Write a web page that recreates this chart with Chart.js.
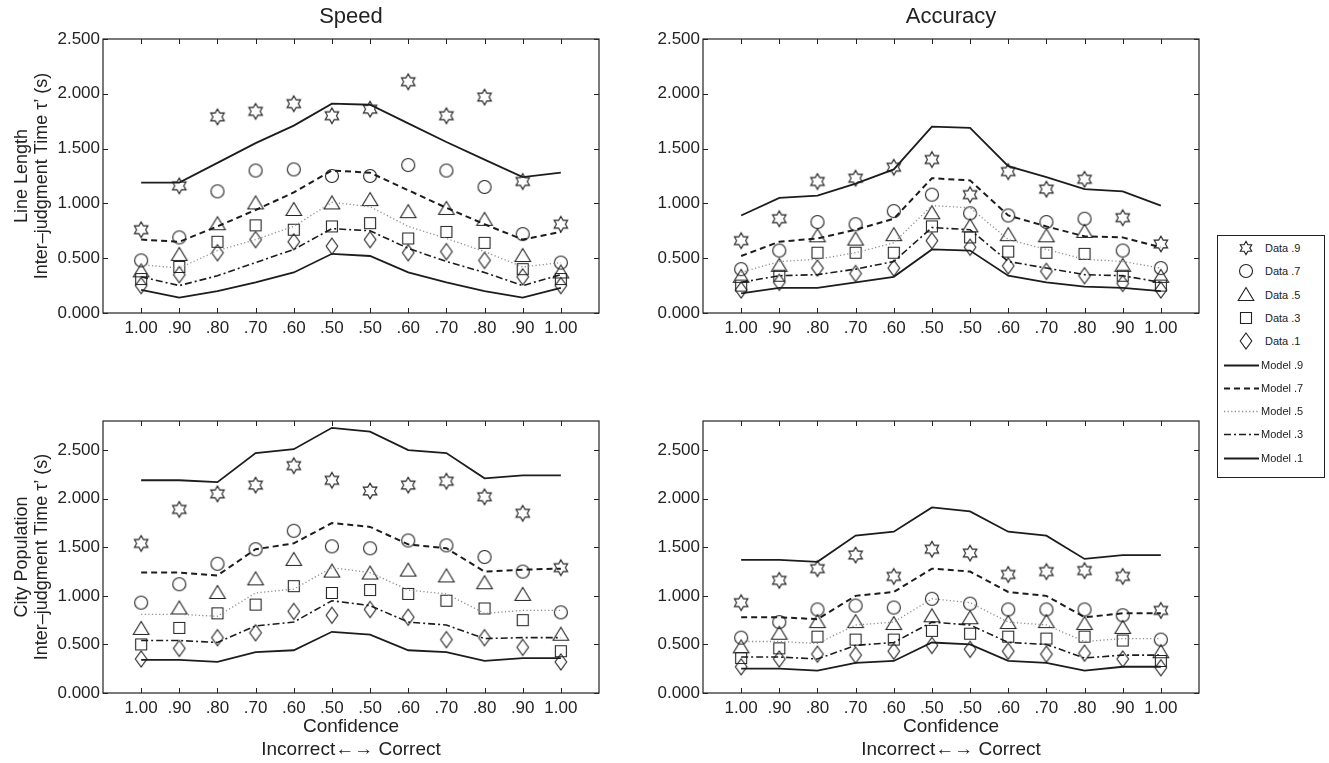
<!DOCTYPE html>
<html>
<head>
<meta charset="utf-8">
<script src="https://cdn.jsdelivr.net/npm/chart.js@4.4.1/dist/chart.umd.min.js"></script>
<style>
  html,body{margin:0;padding:0;background:#fff;}
  body{width:1329px;height:763px;position:relative;overflow:hidden;font-family:'Liberation Sans',Arial,sans-serif;color:#222;}
  canvas.panel{position:absolute;}
  #legend{position:absolute;left:1217px;top:235px;width:106px;height:241px;border:1px solid #222;background:#fff;}
  #legend .row{position:absolute;left:0;height:20px;width:106px;}
  #legend .row canvas{position:absolute;left:0;top:0;}
  #legend .row span{position:absolute;top:0;line-height:20px;font-size:11px;white-space:nowrap;}
</style>
</head>
<body>
<canvas class="panel" id="c1" width="620" height="345" style="left:0;top:0"></canvas>
<canvas class="panel" id="c2" width="620" height="345" style="left:600px;top:0"></canvas>
<canvas class="panel" id="c3" width="620" height="381" style="left:0;top:382px"></canvas>
<canvas class="panel" id="c4" width="620" height="381" style="left:600px;top:382px"></canvas>
<div id="legend"></div>

<script>
// Etiquetas del eje x (confianza) y niveles
const CONF_LABELS = ['1.00','.90','.80','.70','.60','.50','.50','.60','.70','.80','.90','1.00'];
const LEVELS = ['.9','.7','.5','.3','.1'];
const Y_TICKS = [0, 0.5, 1, 1.5, 2, 2.5];

// Line Length - Speed (filas: .9 .7 .5 .3 .1)
const LINE_SPEED_DATA = [
  [0.76,1.16,1.79,1.84,1.91,1.80,1.86,2.11,1.80,1.97,1.20,0.81],
  [0.48,0.69,1.11,1.30,1.31,1.25,1.25,1.35,1.30,1.15,0.72,0.46],
  [0.38,0.53,0.81,1.00,0.94,1.00,1.03,0.92,0.95,0.85,0.52,0.37],
  [0.31,0.42,0.65,0.80,0.76,0.79,0.82,0.68,0.74,0.64,0.40,0.31],
  [0.25,0.35,0.55,0.67,0.65,0.61,0.67,0.55,0.56,0.48,0.33,0.25]
];
const LINE_SPEED_MODEL = [
  [1.19,1.19,1.37,1.55,1.71,1.91,1.90,1.73,1.56,1.40,1.24,1.28],
  [0.67,0.65,0.79,0.94,1.10,1.30,1.28,1.12,0.96,0.81,0.67,0.74],
  [0.44,0.41,0.57,0.67,0.79,1.01,0.97,0.79,0.68,0.56,0.42,0.46],
  [0.33,0.25,0.34,0.46,0.58,0.77,0.75,0.59,0.47,0.37,0.25,0.35],
  [0.21,0.14,0.20,0.28,0.37,0.54,0.52,0.37,0.28,0.20,0.14,0.23]
];

// Line Length - Accuracy
const LINE_ACC_DATA = [
  [0.66,0.86,1.20,1.23,1.33,1.40,1.08,1.29,1.13,1.22,0.87,0.63],
  [0.40,0.57,0.83,0.81,0.93,1.08,0.91,0.89,0.83,0.86,0.57,0.41],
  [0.33,0.43,0.70,0.67,0.71,0.91,0.79,0.71,0.70,0.74,0.43,0.33],
  [0.25,0.34,0.55,0.55,0.55,0.79,0.69,0.56,0.55,0.54,0.34,0.25],
  [0.21,0.28,0.41,0.36,0.41,0.66,0.60,0.43,0.38,0.34,0.27,0.21]
];
const LINE_ACC_MODEL = [
  [0.89,1.05,1.07,1.18,1.31,1.70,1.69,1.34,1.24,1.13,1.11,0.98],
  [0.52,0.65,0.68,0.76,0.86,1.23,1.21,0.89,0.79,0.70,0.69,0.60],
  [0.37,0.47,0.49,0.55,0.64,0.98,0.96,0.67,0.58,0.49,0.47,0.41],
  [0.28,0.34,0.35,0.40,0.47,0.78,0.76,0.47,0.41,0.35,0.34,0.28],
  [0.18,0.23,0.23,0.28,0.33,0.58,0.57,0.34,0.28,0.24,0.23,0.20]
];

// City Population - Speed
const CITY_SPEED_DATA = [
  [1.54,1.89,2.05,2.14,2.34,2.19,2.08,2.14,2.18,2.02,1.85,1.29],
  [0.93,1.12,1.33,1.48,1.67,1.51,1.49,1.57,1.52,1.40,1.25,0.83],
  [0.66,0.87,1.03,1.17,1.37,1.25,1.23,1.26,1.20,1.13,1.01,0.60],
  [0.50,0.67,0.82,0.91,1.10,1.03,1.06,1.02,0.95,0.87,0.75,0.43],
  [0.35,0.46,0.57,0.62,0.84,0.80,0.86,0.78,0.55,0.57,0.47,0.32]
];
const CITY_SPEED_MODEL = [
  [2.19,2.19,2.17,2.47,2.51,2.73,2.69,2.50,2.47,2.21,2.24,2.24],
  [1.24,1.24,1.21,1.48,1.54,1.75,1.71,1.53,1.49,1.25,1.27,1.28],
  [0.81,0.81,0.79,1.03,1.07,1.29,1.24,1.06,1.02,0.82,0.85,0.85],
  [0.54,0.54,0.52,0.69,0.73,0.95,0.90,0.73,0.70,0.56,0.57,0.57],
  [0.34,0.34,0.32,0.42,0.44,0.63,0.60,0.44,0.42,0.33,0.36,0.36]
];

// City Population - Accuracy
const CITY_ACC_DATA = [
  [0.93,1.16,1.28,1.42,1.20,1.48,1.44,1.22,1.25,1.26,1.20,0.85],
  [0.57,0.73,0.86,0.90,0.88,0.97,0.92,0.86,0.86,0.86,0.80,0.55],
  [0.47,0.61,0.73,0.73,0.71,0.79,0.77,0.72,0.73,0.71,0.67,0.42],
  [0.36,0.46,0.58,0.55,0.55,0.64,0.61,0.58,0.56,0.58,0.54,0.33],
  [0.27,0.35,0.40,0.39,0.43,0.49,0.45,0.43,0.40,0.41,0.35,0.26]
];
const CITY_ACC_MODEL = [
  [1.37,1.37,1.35,1.62,1.66,1.91,1.87,1.66,1.62,1.38,1.42,1.42],
  [0.78,0.78,0.76,1.00,1.04,1.28,1.25,1.04,1.00,0.78,0.82,0.82],
  [0.53,0.53,0.51,0.70,0.73,0.97,0.93,0.73,0.70,0.53,0.56,0.56],
  [0.37,0.37,0.35,0.49,0.52,0.73,0.70,0.52,0.50,0.36,0.39,0.39],
  [0.25,0.25,0.23,0.31,0.33,0.52,0.50,0.33,0.31,0.23,0.27,0.27]
];

// --- estilos ---
const INK = '#222';
const MARKERS = ['star','circle','triangle','square','diamond'];
const MODEL_STYLES = [
  {dash:[], color:'#1c1c1c', width:1.8},
  {dash:[6,4], color:'#1c1c1c', width:2},
  {dash:[1.2,2.4], color:'#8c8c8c', width:1.3},
  {dash:[7,3,2,3], color:'#1c1c1c', width:1.6},
  {dash:[], color:'#1c1c1c', width:1.8}
];

Chart.defaults.font.family = "'Liberation Sans', Arial, sans-serif";
Chart.defaults.color = INK;

function drawMarker(g, kind, cx, cy, s){
  s = s || 1;
  g.save();
  g.translate(cx, cy); g.scale(s, s);
  g.strokeStyle = INK; g.lineWidth = 1.1/s;
  g.beginPath();
  if(kind==='star'){
    for(let k=0;k<12;k++){
      const a = -Math.PI/2 + k*Math.PI/6, r = k%2 ? 4.5 : 7.8;
      const px = r*Math.cos(a), py = r*Math.sin(a);
      k ? g.lineTo(px,py) : g.moveTo(px,py);
    }
  } else if(kind==='circle'){
    g.arc(0,0,6.5,0,Math.PI*2);
  } else if(kind==='triangle'){
    g.moveTo(0,-7.5); g.lineTo(7.8,5.5); g.lineTo(-7.8,5.5);
  } else if(kind==='square'){
    g.rect(-5.5,-5.5,11,11);
  } else {
    g.moveTo(0,-8); g.lineTo(5.8,0); g.lineTo(0,8); g.lineTo(-5.8,0);
  }
  g.closePath(); g.stroke();
  g.restore();
}

// marcadores como canvas para pointStyle
const MARKER_IMGS = MARKERS.map(kind=>{
  const c = document.createElement('canvas'); c.width = 22; c.height = 22;
  drawMarker(c.getContext('2d'), kind, 11, 11);
  return c;
});

// marco con ticks hacia adentro (estilo matlab)
const framePlugin = {
  id:'frame',
  beforeDatasetsDraw(chart){
    const {ctx, chartArea:a, scales:{x,y}} = chart;
    ctx.save();
    ctx.strokeStyle = INK; ctx.lineWidth = 1.2;
    ctx.strokeRect(a.left, a.top, a.right-a.left, a.bottom-a.top);
    ctx.lineWidth = 1;
    ctx.beginPath();
    CONF_LABELS.forEach((_,i)=>{
      const px = Math.round(x.getPixelForValue(i))+0.5;
      ctx.moveTo(px,a.bottom); ctx.lineTo(px,a.bottom-5);
      ctx.moveTo(px,a.top); ctx.lineTo(px,a.top+5);
    });
    Y_TICKS.forEach(v=>{
      const py = Math.round(y.getPixelForValue(v))+0.5;
      ctx.moveTo(a.left,py); ctx.lineTo(a.left+5,py);
      ctx.moveTo(a.right,py); ctx.lineTo(a.right-5,py);
    });
    ctx.stroke();
    ctx.restore();
  }
};

function makePanel(id, cfg){
  const datasets = [];
  cfg.model.forEach((row,i)=>{
    const st = MODEL_STYLES[i];
    datasets.push({
      label:'Model '+LEVELS[i], showLine:true, pointRadius:0,
      data: row.map((v,k)=>({x:k,y:v})),
      borderColor:st.color, borderDash:st.dash, borderWidth:st.width, tension:0
    });
  });
  cfg.data.forEach((row,i)=>{
    datasets.push({
      label:'Data '+LEVELS[i], showLine:false,
      data: row.map((v,k)=>({x:k,y:v})),
      pointStyle:MARKER_IMGS[i], pointRadius:8, borderColor:INK, backgroundColor:'transparent'
    });
  });

  new Chart(document.getElementById(id), {
    type:'scatter',
    data:{datasets},
    plugins:[framePlugin],
    options:{
      responsive:false, animation:false, devicePixelRatio:1,
      layout:{padding:{left:0,right:21,top:cfg.padTop,bottom:0}},
      plugins:{
        legend:{display:false}, tooltip:{enabled:false},
        title:{display:!!cfg.title, text:cfg.title, fullSize:false, color:INK,
          font:{size:22,weight:'normal'}, padding:{top:4,bottom:8.6}}
      },
      scales:{
        x:{
          type:'linear', min:-1, max:12,
          afterBuildTicks:s=>{ s.ticks = CONF_LABELS.map((_,i)=>({value:i})); },
          afterFit:s=>{ s.height = cfg.xHeight; },
          ticks:{callback:v=>CONF_LABELS[v] ?? '', autoSkip:false, maxRotation:0, padding:5, color:INK, font:{size:17}},
          grid:{display:false, drawTicks:false}, border:{display:false},
          title:{display:!!cfg.xTitle, text:cfg.xTitle, color:INK, font:{size:19, lineHeight:1.2}, padding:{top:0,bottom:1.6}}
        },
        y:{
          min:0, max:cfg.yMax,
          afterBuildTicks:s=>{ s.ticks = Y_TICKS.map(v=>({value:v})); },
          afterFit:s=>{ s.width = 103; },
          ticks:{callback:v=>Number(v).toFixed(3), padding:3, color:INK, font:{size:17}},
          grid:{display:false, drawTicks:false}, border:{display:false},
          title:{display:!!cfg.yTitle, text:cfg.yTitle, color:INK, font:{size:18, lineHeight:1.15}, padding:{top:11.2,bottom:0}}
        }
      }
    }
  });
}

// --- leyenda ---
function buildLegend(){
  const box = document.getElementById('legend');
  function addRow(i, text, textLeft, paint){
    const row = document.createElement('div'); row.className='row';
    row.style.top = (12 + 23.3*i - 10) + 'px';
    const c = document.createElement('canvas'); c.width = 44; c.height = 20;
    paint(c.getContext('2d'));
    const s = document.createElement('span'); s.textContent = text; s.style.left = textLeft+'px';
    row.appendChild(c); row.appendChild(s); box.appendChild(row);
  }
  LEVELS.forEach((lv,i)=> addRow(i, 'Data '+lv, 47, g=>drawMarker(g, MARKERS[i], 28, 10, i===0 ? 0.85 : 1)));
  LEVELS.forEach((lv,i)=> addRow(i+5, 'Model '+lv, 43, g=>{
    const st = MODEL_STYLES[i];
    g.strokeStyle = st.color; g.lineWidth = st.width; g.setLineDash(st.dash);
    g.beginPath(); g.moveTo(6,10.5); g.lineTo(41,10.5); g.stroke();
  }));
}

window.addEventListener('DOMContentLoaded', ()=>{
  const yTitleLine = ['Line Length', 'Inter\u2013judgment Time \u03c4\u2019 (s)'];
  const yTitleCity = ['City Population', 'Inter\u2013judgment Time \u03c4\u2019 (s)'];
  const xTitle = ['Confidence', 'Incorrect\u2190\u2192 Correct'];
  makePanel('c1', {title:'Speed', yTitle:yTitleLine, yMax:2.5, padTop:0, xHeight:32, data:LINE_SPEED_DATA, model:LINE_SPEED_MODEL});
  makePanel('c2', {title:'Accuracy', yMax:2.5, padTop:0, xHeight:32, data:LINE_ACC_DATA, model:LINE_ACC_MODEL});
  makePanel('c3', {yTitle:yTitleCity, xTitle, yMax:2.8, padTop:39, xHeight:70, data:CITY_SPEED_DATA, model:CITY_SPEED_MODEL});
  makePanel('c4', {xTitle, yMax:2.8, padTop:39, xHeight:70, data:CITY_ACC_DATA, model:CITY_ACC_MODEL});
  buildLegend();
});
</script>
</body>
</html>
